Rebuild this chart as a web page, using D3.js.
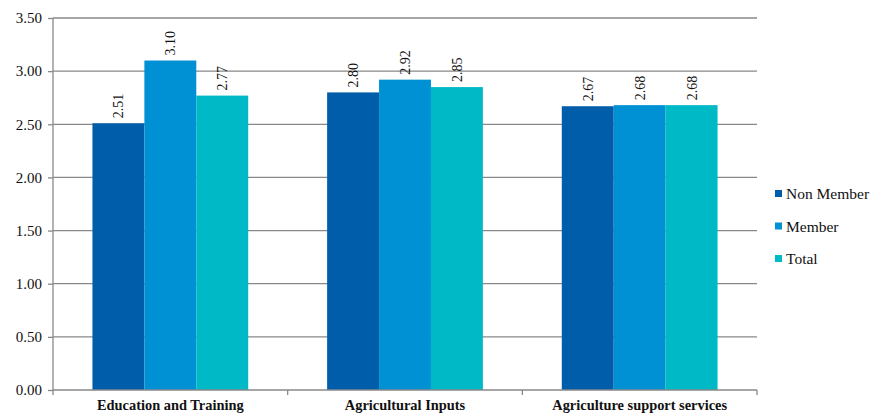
<!DOCTYPE html>
<html><head><meta charset="utf-8">
<script src="https://cdn.jsdelivr.net/npm/d3@7"></script>
<style>body{margin:0;background:#fff}svg{display:block}text{font-family:"Liberation Serif","Times New Roman",serif}</style>
</head><body><svg id="c" width="871" height="413"></svg>
<script>
const categories = ["Education and Training", "Agricultural Inputs", "Agriculture support services"];
const seriesNames = ["Non Member", "Member", "Total"];
const nonMember = [2.51, 2.80, 2.67];
const member = [3.10, 2.92, 2.68];
const total = [2.77, 2.85, 2.68];
const yTicks = [0, 0.5, 1.0, 1.5, 2.0, 2.5, 3.0, 3.5];
const colors = ["#005DAA", "#0091D5", "#00B9C6"];
const seriesValues = [nonMember, member, total];

(function () {
const svg = d3.select("#c");
const mLeft = 53, mRight = 757, mTop = 18, mBottom = 390;
const x0 = d3.scaleBand().domain(categories).range([mLeft, mRight]).paddingInner(0).paddingOuter(0);
const y = d3.scaleLinear().domain([0, 3.5]).range([mBottom, mTop]);
const x1 = d3.scaleBand().domain(seriesNames).range([0, x0.bandwidth()]).paddingInner(0).paddingOuter(0.76);

// gridlines
svg.append("g").selectAll("line").data(yTicks.filter(d => d > 0)).join("line")
  .attr("x1", mLeft).attr("x2", mRight).attr("y1", d => y(d)).attr("y2", d => y(d))
  .attr("stroke", "#888").attr("stroke-width", 1.3);

// bars
const g = svg.append("g");
categories.forEach((c, ci) => {
  seriesNames.forEach((s, si) => {
    const v = seriesValues[si][ci];
    const bx = x0(c) + x1(s);
    g.append("rect").attr("x", bx).attr("y", y(v)).attr("width", x1.bandwidth()).attr("height", y(0) - y(v)).attr("fill", colors[si]);
    const cx = bx + x1.bandwidth() / 2;
    g.append("text").attr("transform", `translate(${cx + 5},${y(v) - 5}) rotate(-90)`)
      .attr("font-size", 14).attr("fill", "#111").attr("text-anchor", "start").text(v.toFixed(2));
  });
});

// y axis
const yAxis = svg.append("g").attr("transform", `translate(${mLeft},0)`)
  .call(d3.axisLeft(y).tickValues(yTicks).tickFormat(d3.format(".2f")).tickSize(5).tickPadding(6));
yAxis.select(".domain").attr("stroke", "#888").attr("stroke-width", 1.3).attr("d", `M0,${mTop}V${mBottom}`);
yAxis.selectAll(".tick line").attr("stroke", "#888").attr("stroke-width", 1.3);
yAxis.selectAll(".tick text").attr("font-size", 15).attr("fill", "#111").attr("font-family", "Liberation Serif, serif");

// x axis
const xAxisG = svg.append("g").attr("transform", `translate(0,${mBottom})`);
xAxisG.append("line").attr("x1", mLeft).attr("x2", mRight).attr("y1", 0).attr("y2", 0).attr("stroke", "#888").attr("stroke-width", 1.3);
const bounds = [mLeft].concat(categories.map(c => x0(c) + x0.bandwidth()));
xAxisG.selectAll("line.t").data(bounds).join("line").attr("class", "t")
  .attr("x1", d => d).attr("x2", d => d).attr("y1", 0).attr("y2", 5).attr("stroke", "#888").attr("stroke-width", 1.3);
xAxisG.selectAll("text").data(categories).join("text")
  .attr("x", d => x0(d) + x0.bandwidth() / 2).attr("y", 20)
  .attr("text-anchor", "middle").attr("font-size", 14.4).attr("font-weight", "bold").attr("fill", "#111").text(d => d);

// legend
const leg = svg.append("g");
seriesNames.forEach((s, i) => {
  const ly = 194 + i * 32.5;
  leg.append("rect").attr("x", 775).attr("y", ly - 4).attr("width", 7).attr("height", 7).attr("fill", colors[i]);
  leg.append("text").attr("x", 786).attr("y", ly + 5).attr("font-size", 15.5).attr("fill", "#111").text(s);
});
})();
</script></body></html>
